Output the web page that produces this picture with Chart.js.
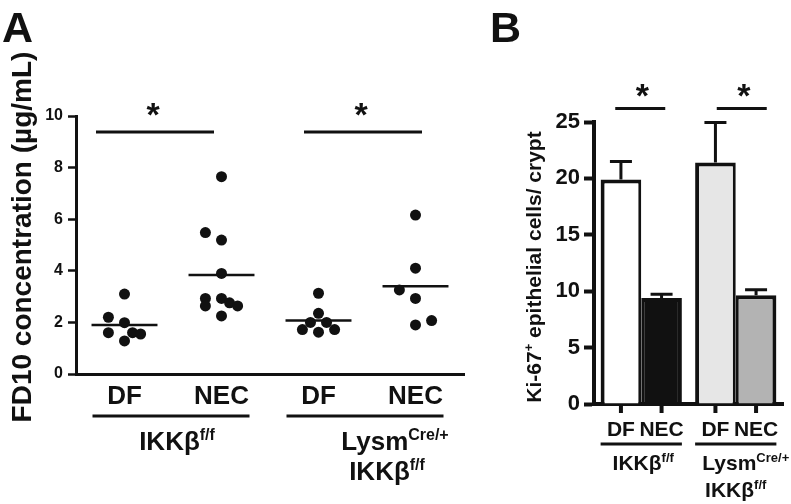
<!DOCTYPE html>
<html>
<head>
<meta charset="utf-8">
<script src="https://cdn.jsdelivr.net/npm/chart.js@4.4.1/dist/chart.umd.min.js"></script>
<style>
  html, body { margin: 0; padding: 0; background: #fff; }
  #wrap { position: relative; width: 791px; height: 504px; overflow: hidden; }
  #chartA { position: absolute; left: 0; top: 0; }
  #chartB { position: absolute; left: 490px; top: 0; }
</style>
</head>
<body>
<div id="wrap">
  <canvas id="chartA" width="490" height="504"></canvas>
  <canvas id="chartB" width="301" height="504"></canvas>
</div>
<script>
// ---- Panel A: FD10 concentration (µg/mL), one dot per animal ----
const groupsA = ['DF', 'NEC', 'DF', 'NEC'];
const ikkDF = [3.10, 2.20, 1.99, 1.60, 1.60, 1.55, 1.28];
const ikkNEC = [7.65, 5.48, 5.19, 3.90, 2.93, 2.64, 2.93, 2.76, 2.64, 2.25];
const lysmDF = [3.13, 2.35, 2.00, 2.00, 1.72, 1.62, 1.72];
const lysmNEC = [6.16, 4.10, 3.26, 2.93, 2.07, 1.90];
// sideways nudge (in dot slots) so touching dots sit next to each other
const ikkDFSlot = [0, -2, 0, -2, 1, 2, 0];
const ikkNECSlot = [0, -2, 0, 0, -2, -2, 0, 1, 2, 0];
const lysmDFSlot = [0, 0, -1, 1, -2, 0, 2];
const lysmNECSlot = [0, 0, -2, 0, 2, 0];
const ticksA = [0, 2, 4, 6, 8, 10];
const yTitleA = 'FD10 concentration (µg/mL)';

// ---- Panel B: Ki-67+ cells per crypt, mean + SEM ----
const genotypes = [['IKKβ^f/f'], ['Lysm^Cre/+', 'IKKβ^f/f']];
const conditionsB = ['DF', 'NEC'];
const dfMean = [19.9, 21.4];
const dfSem = [1.6, 3.55];
const necMean = [9.4, 9.65];
const necSem = [0.32, 0.47];
const ticksB = [0, 5, 10, 15, 20, 25];
const yTitleB = 'Ki-67^+^ epithelial cells/ crypt';

const ink = '#111111';
const fontFamily = '"Liberation Sans", Arial, Helvetica, sans-serif';
const dfFill = ['#ffffff', '#e6e6e6'];
const necFill = [ink, '#b3b3b3'];
const slotStep = 0.083;

Chart.defaults.font.family = fontFamily;
Chart.defaults.color = ink;

function mean(arr) {
    return arr.reduce((a, b) => a + b, 0) / arr.length;
}

// text with ^superscript^ parts, centred on (cx, cy)
function drawRich(ctx, text, cx, cy, size) {
    const supSize = Math.round(size * 0.62);
    const parts = text.split('^').map((t, i) => ({ t, sup: i % 2 === 1 }));
    let total = 0;
    parts.forEach(p => {
        ctx.font = `bold ${p.sup ? supSize : size}px ${fontFamily}`;
        p.w = ctx.measureText(p.t).width;
        total += p.w;
    });
    let xx = cx - total / 2;
    const base = cy + size * 0.36;
    ctx.textAlign = 'left';
    ctx.textBaseline = 'alphabetic';
    parts.forEach(p => {
        ctx.font = `bold ${p.sup ? supSize : size}px ${fontFamily}`;
        ctx.fillText(p.t, xx, p.sup ? base - size * 0.38 : base);
        xx += p.w;
    });
}

function hLine(ctx, x1, x2, y, w) {
    ctx.lineWidth = w;
    ctx.beginPath();
    ctx.moveTo(x1, y);
    ctx.lineTo(x2, y);
    ctx.stroke();
}

function drawStar(ctx, cx, cy) {
    ctx.font = `bold 34px ${fontFamily}`;
    ctx.textAlign = 'center';
    ctx.textBaseline = 'alphabetic';
    ctx.fillText('*', cx, cy + 19);
}

// ---------- Panel A ----------
const valuesA = [ikkDF, ikkNEC, lysmDF, lysmNEC];
const slotsA = [ikkDFSlot, ikkNECSlot, lysmDFSlot, lysmNECSlot];
const datasetsA = [];
valuesA.forEach((vals, g) => {
    const pos = g + 1;
    datasetsA.push({
        data: vals.map((v, i) => ({ x: pos + slotsA[g][i] * slotStep, y: v })),
        pointRadius: 5.5,
        pointHoverRadius: 5.5,
        pointBackgroundColor: ink,
        pointBorderWidth: 0
    });
    const m = mean(vals);
    datasetsA.push({
        data: [{ x: pos - 0.34, y: m }, { x: pos + 0.34, y: m }],
        showLine: true,
        borderColor: ink,
        borderWidth: 2.5,
        pointRadius: 0
    });
});

const panelAOverlay = {
    id: 'panelAOverlay',
    afterDraw(chart) {
        const { ctx, chartArea, scales: { x, y } } = chart;
        ctx.save();
        ctx.fillStyle = ink;
        ctx.strokeStyle = ink;

        ctx.font = `bold 43px ${fontFamily}`;
        ctx.textAlign = 'left';
        ctx.textBaseline = 'alphabetic';
        ctx.fillText('A', 2, 42);

        ctx.save();
        ctx.translate(20.5, 237);
        ctx.rotate(-Math.PI / 2);
        drawRich(ctx, yTitleA, 0, 0, 28);
        ctx.restore();

        const labelShift = [[4], [28, 20]];
        genotypes.forEach((lines, g) => {
            const a = x.getPixelForValue(2 * g + 1);
            const b = x.getPixelForValue(2 * g + 2);
            hLine(ctx, a - 32, b + 28, chartArea.bottom + 42, 3);
            lines.forEach((txt, k) => {
                drawRich(ctx, txt, (a + b) / 2 + labelShift[g][k], chartArea.bottom + 67 + 30 * k, 26);
            });
            // significance bar over each genotype pair
            const mid = (a + b) / 2 + (g === 0 ? -18 : -4);
            const sy = y.getPixelForValue(9.38);
            hLine(ctx, mid - 59, mid + 59, sy, 3);
            drawStar(ctx, mid - 2, sy - 25);
        });
        ctx.restore();
    }
};

new Chart(document.getElementById('chartA'), {
    type: 'scatter',
    data: { datasets: datasetsA },
    options: {
        responsive: false,
        animation: false,
        layout: { padding: { left: 0, top: 116, right: 26, bottom: 0 } },
        scales: {
            x: {
                type: 'linear',
                min: 0.5,
                max: 4.5,
                afterBuildTicks: s => { s.ticks = groupsA.map((_, i) => ({ value: i + 1 })); },
                ticks: {
                    callback: v => groupsA[v - 1],
                    font: { size: 26, weight: 'bold' },
                    color: ink,
                    padding: 7,
                    autoSkip: false,
                    maxRotation: 0
                },
                grid: { display: false, drawTicks: false },
                border: { width: 3, color: ink },
                afterFit: s => { s.height = 130; }
            },
            y: {
                min: 0,
                max: 10,
                afterBuildTicks: s => { s.ticks = ticksA.map(v => ({ value: v })); },
                ticks: { font: { size: 16, weight: 'bold' }, color: ink, padding: 5 },
                grid: { drawOnChartArea: false, tickLength: 8, tickWidth: 2.5, tickColor: ink },
                border: { width: 3, color: ink },
                afterFit: s => { s.width = 76; }
            }
        },
        plugins: { legend: { display: false }, tooltip: { enabled: false } }
    },
    plugins: [panelAOverlay]
});

// ---------- Panel B ----------
const panelBOverlay = {
    id: 'panelBOverlay',
    afterDatasetsDraw(chart) {
        const { ctx, scales: { y } } = chart;
        ctx.save();
        ctx.strokeStyle = ink;
        ctx.lineWidth = 3;
        [[dfMean, dfSem], [necMean, necSem]].forEach(([m, s], d) => {
            chart.getDatasetMeta(d).data.forEach((bar, i) => {
                const top = y.getPixelForValue(m[i] + s[i]);
                ctx.beginPath();
                ctx.moveTo(bar.x, bar.y);
                ctx.lineTo(bar.x, top);
                ctx.moveTo(bar.x - 11, top);
                ctx.lineTo(bar.x + 11, top);
                ctx.stroke();
            });
        });
        ctx.restore();
    },
    afterDraw(chart) {
        const { ctx, chartArea, scales: { y } } = chart;
        const bottom = chartArea.bottom;
        ctx.save();
        ctx.fillStyle = ink;
        ctx.strokeStyle = ink;

        ctx.font = `bold 43px ${fontFamily}`;
        ctx.textAlign = 'left';
        ctx.textBaseline = 'alphabetic';
        ctx.fillText('B', 0, 42);

        ctx.save();
        ctx.translate(43, 267);
        ctx.rotate(-Math.PI / 2);
        drawRich(ctx, yTitleB, 0, 0, 21);
        ctx.restore();

        const dfBars = chart.getDatasetMeta(0).data;
        const necBars = chart.getDatasetMeta(1).data;
        // tick marks and condition labels under each bar
        [dfBars, necBars].forEach((bars, d) => {
            bars.forEach(bar => {
                ctx.lineWidth = 4;
                ctx.beginPath();
                ctx.moveTo(bar.x, bottom);
                ctx.lineTo(bar.x, bottom + 9);
                ctx.stroke();
                drawRich(ctx, conditionsB[d], bar.x, bottom + 24, 21);
            });
        });
        const labelShift = [[2], [10, 0]];
        const sigShift = [-1, 6];
        genotypes.forEach((lines, g) => {
            const l = dfBars[g].x - dfBars[g].width / 2;
            const r = necBars[g].x + necBars[g].width / 2;
            hLine(ctx, l, r, bottom + 40, 3);
            const mid = (dfBars[g].x + necBars[g].x) / 2;
            lines.forEach((txt, k) => {
                drawRich(ctx, txt, mid + labelShift[g][k], bottom + 58 + 27 * k, 21);
            });
            const sy = y.getPixelForValue(26.2);
            const c = mid + sigShift[g];
            hLine(ctx, c - 25, c + 25, sy, 3);
            drawStar(ctx, c + 2, sy - 20);
        });
        ctx.restore();
    }
};

new Chart(document.getElementById('chartB'), {
    type: 'bar',
    data: {
        labels: genotypes.map(lines => lines.join(' ').replace(/\^/g, '')),
        datasets: [
            {
                label: conditionsB[0],
                data: dfMean,
                backgroundColor: dfFill,
                borderColor: ink,
                borderWidth: { top: 4, left: 4, right: 3, bottom: 0 }
            },
            {
                label: conditionsB[1],
                data: necMean,
                backgroundColor: necFill,
                borderColor: ink,
                borderWidth: { top: 4, left: 3, right: 4, bottom: 0 }
            }
        ]
    },
    options: {
        responsive: false,
        animation: false,
        layout: { padding: { left: 0, top: 122, right: 8, bottom: 0 } },
        datasets: { bar: { categoryPercentage: 0.86, barPercentage: 1 } },
        scales: {
            x: {
                ticks: { display: false },
                grid: { display: false, drawTicks: false },
                border: { width: 4, color: ink },
                afterFit: s => { s.height = 100; }
            },
            y: {
                min: 0,
                max: 25,
                afterBuildTicks: s => { s.ticks = ticksB.map(v => ({ value: v })); },
                ticks: { font: { size: 22, weight: 'bold' }, color: ink, padding: 4 },
                grid: { drawOnChartArea: false, tickLength: 10, tickWidth: 4, tickColor: ink },
                border: { width: 4, color: ink },
                afterFit: s => { s.width = 104; }
            }
        },
        plugins: { legend: { display: false }, tooltip: { enabled: false } }
    },
    plugins: [panelBOverlay]
});
</script>
</body>
</html>
